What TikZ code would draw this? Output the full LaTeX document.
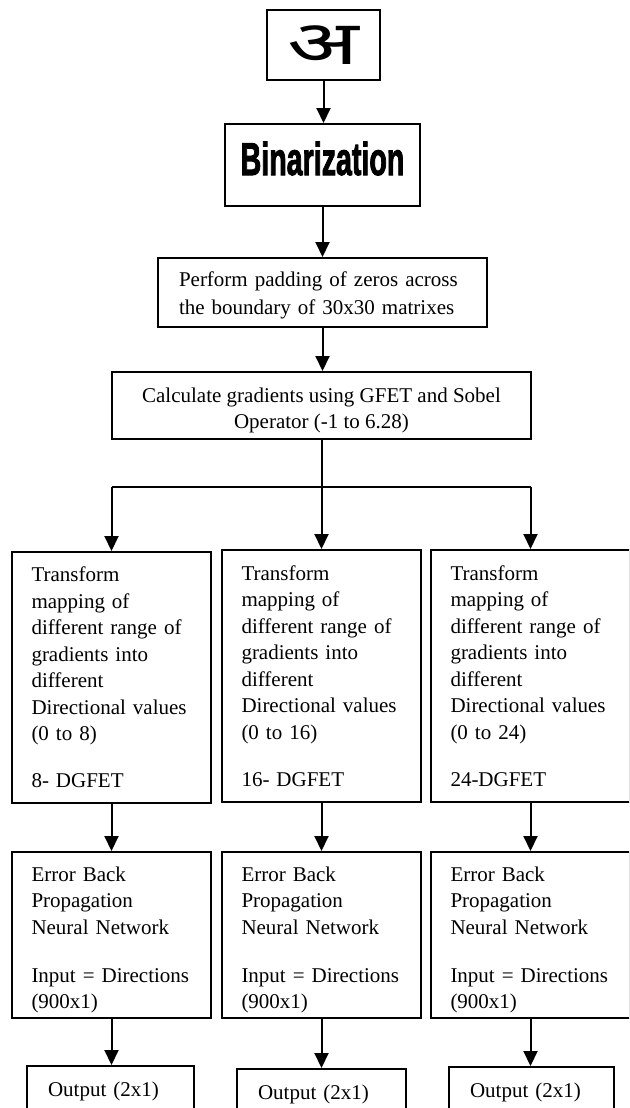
\documentclass[tikz,border=0pt]{standalone}
\usepackage{fontspec}
\setmainfont{Liberation Serif}
\newfontfamily\devfont[Script=Devanagari]{Noto Sans}
\newfontfamily\binfont[BoldFeatures={FakeBold=2.5}]{Liberation Sans}
\usetikzlibrary{arrows.meta}
\begin{document}
\begin{tikzpicture}[x=1pt,y=-1pt,
  box/.style={draw, line width=2pt, inner sep=0pt},
  txt/.style={font=\fontsize{21}{26.5}\selectfont},
  colbox/.style={box, txt, anchor=north west, text width=160pt, inner xsep=19.5pt, align=left},
  outbox/.style={box, txt, anchor=north west, text width=125pt, inner xsep=21pt, minimum height=50pt, align=left},
  arr/.style={line width=2pt, -{Triangle[width=14pt,length=15pt]}},
  ln/.style={line width=2pt}]
\useasboundingbox (0,0) rectangle (629,1108);
\clip (0,0) rectangle (629,1108);

% top image box
\node[box, minimum width=113pt, minimum height=70pt] (img) at (323.5,45)
  {\scalebox{1.8}[1.18]{\devfont\fontsize{52}{60}\selectfont अ}};

% binarization
\node[box, minimum width=195pt, minimum height=82pt] (bin) at (322.5,165)
  {\raisebox{-10pt}[0pt][0pt]{\scalebox{0.64}[1.03]{\binfont\bfseries\fontsize{44.7}{50}\selectfont Binarization}}};

% padding
\node[box, font=\fontsize{21}{28}\selectfont, minimum height=69pt, text width=287pt, inner xsep=21pt, align=left] (pad) at (322.5,292.5)
  {\rule{0pt}{21.5pt}Perform padding of zeros across\\the boundary of 30x30 matrixes};

% gradients
\node[box, txt, minimum width=419pt, minimum height=67pt, align=center] (calc) at (321.5,405.5)
  {\rule{0pt}{24pt}Calculate gradients using GFET and Sobel\\Operator (-1 to 6.28)};

\coordinate (bar) at (0,487);

% transform boxes
\node[colbox, minimum height=251pt] (tr1) at (11,551)
  {Transform\\mapping of\\different range of\\gradients into\\different\\Directional values\\(0 to 8)\\[20.5pt]8- DGFET};
\node[colbox, minimum height=252pt] (tr2) at (221,549)
  {Transform\\mapping of\\different range of\\gradients into\\different\\Directional values\\(0 to 16)\\[20.5pt]16- DGFET};
\node[colbox, minimum height=252pt] (tr3) at (430,549)
  {Transform\\mapping of\\different range of\\gradients into\\different\\Directional values\\(0 to 24)\\[20.5pt]24-DGFET};

% error back propagation boxes
\node[colbox, minimum height=166pt] (eb1) at (11,851)
  {\rule{0pt}{24pt}Error Back\\Propagation\\Neural Network\\[21.5pt]Input = Directions\\(900x1)};
\node[colbox, minimum height=166pt] (eb2) at (221,851)
  {\rule{0pt}{24pt}Error Back\\Propagation\\Neural Network\\[21.5pt]Input = Directions\\(900x1)};
\node[colbox, minimum height=166pt] (eb3) at (430,851)
  {\rule{0pt}{24pt}Error Back\\Propagation\\Neural Network\\[21.5pt]Input = Directions\\(900x1)};

% output boxes
\node[outbox, minimum width=167pt] (out1) at (26,1065) {Output (2x1)};
\node[outbox, minimum width=169pt, text width=127pt] (out2) at (236,1068) {Output (2x1)};
\node[outbox, minimum width=165pt, text width=123pt] (out3) at (448,1066) {Output (2x1)};

% connectors
\draw[arr] (img.south) -- (img.south |- bin.north);
\draw[arr] (bin.south) -- (bin.south |- pad.north);
\draw[arr] (pad.south) -- (pad.south |- calc.north);
\draw[ln] (calc.south) -- (calc.south |- bar);
\draw[ln] (tr1.north |- bar) -- (tr3.north |- bar);
\foreach \i in {1,2,3}{
  \draw[arr] (tr\i.north |- bar) -- (tr\i.north);
  \draw[arr] (tr\i.south) -- (eb\i.north);
  \draw[arr] (eb\i.south) -- (eb\i.south |- out\i.north);
}
\end{tikzpicture}
\end{document}
